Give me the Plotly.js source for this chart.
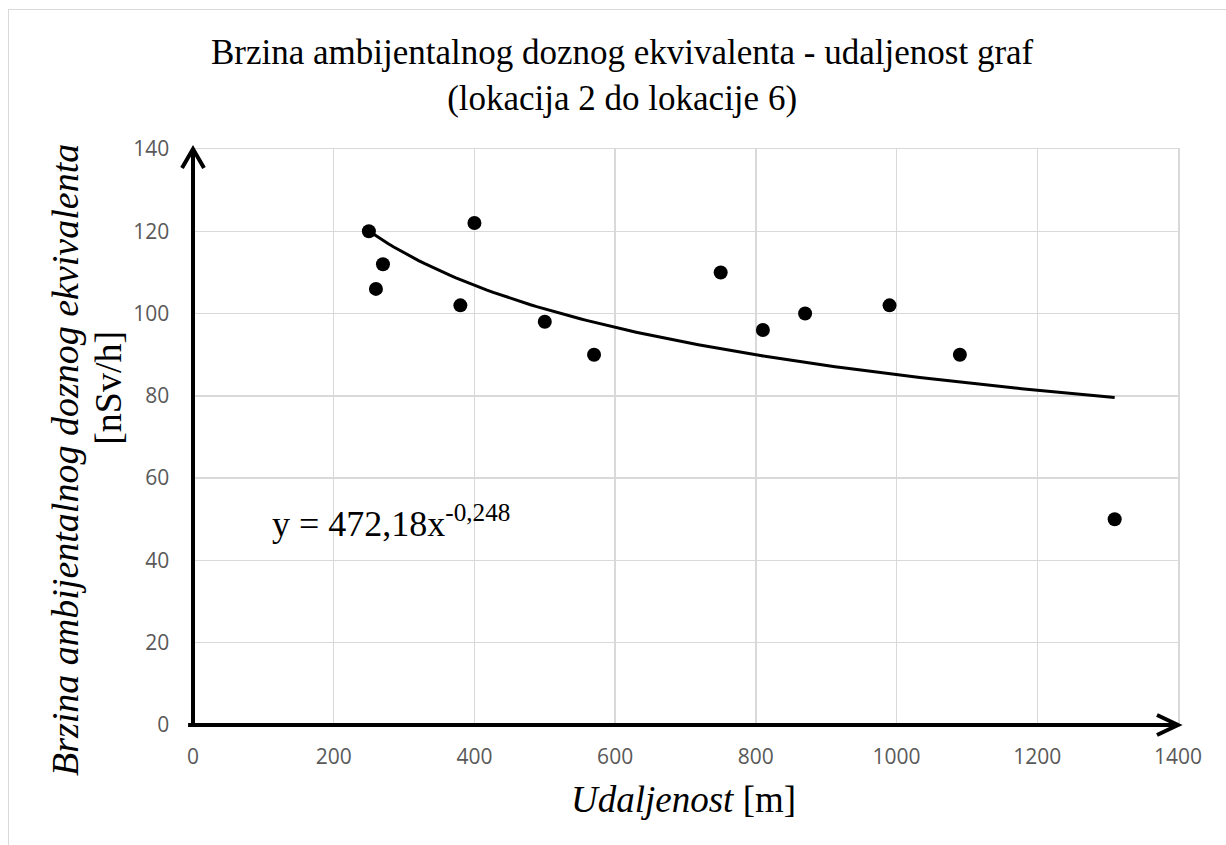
<!DOCTYPE html>
<html>
<head>
<meta charset="utf-8">
<script src="https://cdn.plot.ly/plotly-3.0.1.min.js"></script>
<style>
  html, body { margin: 0; padding: 0; background: #ffffff; }
  #chart { position: absolute; left: 0; top: 0; width: 1226px; height: 845px; }
  #frame { position: absolute; left: 8px; top: 9px; width: 1300px; height: 900px;
           border-left: 1.5px solid #d9d9d9; border-top: 1.5px solid #d9d9d9; pointer-events: none; }
</style>
</head>
<body>
<div id="chart"></div>
<div id="frame"></div>
<script>
// Measured points
const distance = [250, 260, 270, 380, 400, 500, 570, 750, 810, 870, 990, 1090, 1310];
const doseRate = [120, 106, 112, 102, 122, 98, 90, 110, 96, 100, 102, 90, 50];

// Power trendline as printed on the chart: y = 472,18 x^-0,248
const fitCoefA = 472.18;
const fitExpB = -0.248;

const xTickVals = [0, 200, 400, 600, 800, 1000, 1200, 1400];
const yTickVals = [0, 20, 40, 60, 80, 100, 120, 140];

const chartTitle = "Brzina ambijentalnog doznog ekvivalenta - udaljenost graf<br>(lokacija 2 do lokacije 6)";
const xTitleText = "<i>Udaljenost</i> [m]";
const yTitleLine1 = "<i>Brzina ambijentalnog doznog ekvivalenta</i>";
const yTitleLine2 = "[nSv/h]";
const equationText = "y = 472,18x<sup>-0,248</sup>";

// trendline sampled across the measured range
const xMin = Math.min(...distance), xMax = Math.max(...distance);
const trendX = [], trendY = [];
const nSteps = 120;
for (let i = 0; i <= nSteps; i++) {
  const x = xMin + (xMax - xMin) * i / nSteps;
  trendX.push(x);
  trendY.push(fitCoefA * Math.pow(x, fitExpB));
}

const serif = "Liberation Serif";
const tickFont = { family: "Open Sans", size: 21, color: "#595959" };

const traces = [
  { x: trendX, y: trendY, type: "scatter", mode: "lines",
    line: { color: "#000000", width: 3 }, hoverinfo: "skip", showlegend: false },
  { x: distance, y: doseRate, type: "scatter", mode: "markers",
    marker: { color: "#000000", size: 14 }, showlegend: false }
];

const layout = {
  width: 1226, height: 845,
  paper_bgcolor: "#ffffff", plot_bgcolor: "#ffffff",
  margin: { l: 193, r: 48, t: 149, b: 120 },
  showlegend: false,
  font: { family: serif, color: "#000000" },
  xaxis: {
    range: [0, 1400], tickvals: xTickVals, ticktext: xTickVals.map(String),
    showgrid: true, gridcolor: "#d9d9d9", gridwidth: 1.5,
    zeroline: false, showline: true, linecolor: "#d9d9d9", linewidth: 1.5, mirror: true,
    ticks: "outside", ticklen: 12, tickcolor: "rgba(0,0,0,0)", tickfont: tickFont,
    fixedrange: true
  },
  yaxis: {
    range: [0, 140], tickvals: yTickVals, ticktext: yTickVals.map(String),
    showgrid: true, gridcolor: "#d9d9d9", gridwidth: 1.5,
    zeroline: false, showline: true, linecolor: "#d9d9d9", linewidth: 1.5, mirror: true,
    ticks: "outside", ticklen: 18, tickcolor: "rgba(0,0,0,0)", tickfont: tickFont,
    fixedrange: true
  },
  shapes: [
    { type: "line", xref: "x domain", yref: "y domain", x0: -0.005, x1: 1, y0: 0, y1: 0,
      line: { color: "#000000", width: 4 } },
    { type: "line", xref: "x domain", yref: "y domain", x0: 0, x1: 0, y0: 0, y1: 1,
      line: { color: "#000000", width: 4 } },
    { type: "path", xref: "x domain", yref: "y domain", xsizemode: "pixel", ysizemode: "pixel",
      xanchor: 1, yanchor: 0, path: "M -21,10 L 0,0 L -21,-10",
      line: { color: "#000000", width: 4 } },
    { type: "path", xref: "x domain", yref: "y domain", xsizemode: "pixel", ysizemode: "pixel",
      xanchor: 0, yanchor: 1, path: "M -11,-19 L 0,0 L 11,-19",
      line: { color: "#000000", width: 4 } }
  ],
  annotations: [
    { text: chartTitle, xref: "paper", yref: "paper",
      x: (622 - 193) / 985, y: (725 - 76) / 576, xanchor: "center", yanchor: "middle",
      showarrow: false, font: { family: serif, size: 35, color: "#000000" } },
    { text: yTitleLine1, textangle: -90, xref: "paper", yref: "paper",
      x: -0.13, y: 0.46, xanchor: "center", yanchor: "middle", showarrow: false,
      font: { family: serif, size: 38, color: "#000000" } },
    { text: yTitleLine2, textangle: -90, xref: "paper", yref: "paper",
      x: -0.0865, y: 0.585, xanchor: "center", yanchor: "middle", showarrow: false,
      font: { family: serif, size: 38, color: "#000000" } },
    { text: xTitleText, xref: "paper", yref: "paper",
      x: 0.4975, y: -0.13, xanchor: "center", yanchor: "middle", showarrow: false,
      font: { family: serif, size: 37, color: "#000000" } },
    { text: equationText, xref: "paper", yref: "paper",
      x: 0.201, y: 0.354, xanchor: "center", yanchor: "middle", showarrow: false,
      font: { family: serif, size: 36, color: "#000000" } }
  ]
};

Plotly.newPlot("chart", traces, layout, { displayModeBar: false, staticPlot: true });
</script>
</body>
</html>
